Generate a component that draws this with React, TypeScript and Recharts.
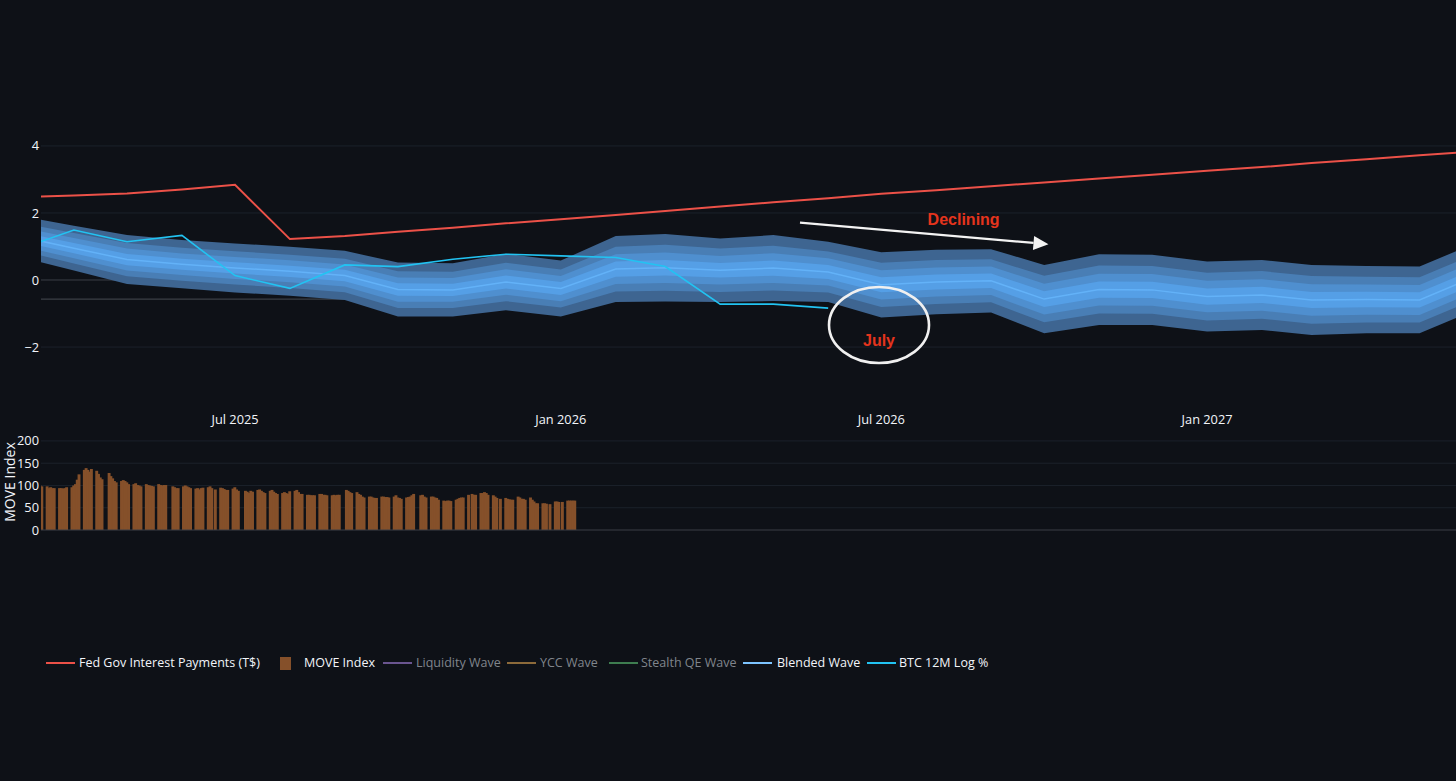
import React from 'react';
import {
  ComposedChart,
  BarChart,
  Bar,
  Line,
  Area,
  XAxis,
  YAxis,
  ReferenceLine,
  ReferenceDot,
} from 'recharts';

// ---------- DATA ----------
const months = [
  '2025-03', '2025-04', '2025-05', '2025-06', '2025-07', '2025-08', '2025-09',
  '2025-10', '2025-11', '2025-12', '2026-01', '2026-02', '2026-03', '2026-04',
  '2026-05', '2026-06', '2026-07', '2026-08', '2026-09', '2026-10', '2026-11',
  '2026-12', '2027-01', '2027-02', '2027-03', '2027-04', '2027-05', '2027-06',
];

const fedInterest = [
  2.47, 2.52, 2.58, 2.7, 2.84, 1.22, 1.31, 1.44, 1.56, 1.69, 1.81, 1.94, 2.06, 2.19,
  2.32, 2.44, 2.57, 2.68, 2.8, 2.91, 3.03, 3.14, 3.26, 3.37, 3.49, 3.6, 3.72, 3.83,
];

const btc12mLog: (number | null)[] = [
  0.92, 1.49, 1.14, 1.33, 0.13, -0.25, 0.45, 0.4, 0.62, 0.77, 0.72, 0.67, 0.4, -0.72,
  -0.72, -0.84, null, null, null, null, null, null, null, null, null, null, null, null,
];

const waveUpper = [
  1.91, 1.62, 1.34, 1.19, 1.09, 0.99, 0.87, 0.52, 0.5, 0.78, 0.58, 1.31, 1.37, 1.24,
  1.34, 1.14, 0.83, 0.9, 0.92, 0.45, 0.77, 0.75, 0.55, 0.6, 0.45, 0.42, 0.4, 1.09,
];

const waveLower = [
  0.69, 0.28, -0.12, -0.25, -0.37, -0.47, -0.6, -1.09, -1.09, -0.9, -1.09, -0.66, -0.64, -0.66,
  -0.63, -0.66, -1.12, -1.02, -0.97, -1.59, -1.34, -1.34, -1.54, -1.49, -1.64, -1.59, -1.59, -0.9,
];

const xTickMonths = ['2025-07', '2026-01', '2026-07', '2027-01'];
const yTicksTop = [-2, 0, 2, 4];
const yTicksMove = [0, 50, 100, 150, 200];

// MOVE Index, business days, one row per week (Mon..Fri), first week starts Mon 2025-03-10
const moveWeekStart = '2025-03-10';
const moveValues: (number | null)[][] = [
  [null, null, null, 100, 98],
  [98, 94, 96, 94, 94],
  [94, 94, 93, 94, 96],
  [96, 100, 103, 113, 125],
  [135, 139, 135, 131, 137],
  [133, 126, 118, 114, null],
  [128, 121, 116, 110, 107],
  [110, 112, 110, 107, 103],
  [103, 105, 101, 100, 98],
  [103, 101, 100, 99, 98],
  [103, 101, 100, 101, 101],
  [null, 98, 96, 94, 94],
  [98, 100, 98, 96, 94],
  [93, 94, 91, 94, 95],
  [96, 98, 94, null, 91],
  [95, 94, 92, 90, 90],
  [93, 96, 91, 88, null],
  [88, 86, 83, 88, 86],
  [90, 91, 88, 85, 83],
  [88, 90, 86, 83, 81],
  [83, 85, 83, 81, 87],
  [88, 90, 85, 81, 81],
  [79, 79, 78, 78, 78],
  [81, 81, 79, 79, 78],
  [78, 79, 78, 79, 79],
  [null, 90, 88, 85, 83],
  [85, 81, 79, 75, 73],
  [75, 75, 73, 72, 72],
  [75, 75, 74, 74, 73],
  [75, 78, 73, 72, 70],
  [73, 74, 75, 78, 81],
  [null, 78, 79, 75, 73],
  [75, 75, 73, 72, 68],
  [66, 65, 66, 66, 65],
  [68, 70, 72, 73, 73],
  [79, null, 81, 79, 79],
  [83, 83, 85, 83, 79],
  [78, 75, 72, null, 70],
  [72, 70, 69, 68, 68],
  [75, 73, 70, 70, 68],
  [73, 68, 64, 60, 60],
  [60, 60, 59, null, 58],
  [64, 64, 63, null, 63],
  [66, 66, 66, 66, 66],
];

// ---------- HELPERS ----------
const DAY = 86400000;
const toT = (s: string) => {
  const [y, m, d] = s.split('-').map(Number);
  return Date.UTC(y, m - 1, d || 1);
};
const MONTH_NAMES = ['Jan', 'Feb', 'Mar', 'Apr', 'May', 'Jun', 'Jul', 'Aug', 'Sep', 'Oct', 'Nov', 'Dec'];
const fmtDate = (t: number) => {
  const d = new Date(t);
  return `${MONTH_NAMES[d.getUTCMonth()]} ${d.getUTCFullYear()}`;
};
const fmtNum = (v: number) => (v < 0 ? `\u2212${Math.abs(v)}` : `${v}`);

const xDomain: [number, number] = [Date.UTC(2025, 2, 13, 10), Date.UTC(2027, 4, 21, 14)];
const xTicks = xTickMonths.map(toT);

const layerFractions = [1, 0.68, 0.45, 0.23];
const layerColors = ['#3e6591', '#497eb5', '#4f8fcf', '#559fe6'];

const topRows = months.map((m, i) => {
  const c = (waveUpper[i] + waveLower[i]) / 2;
  const h = (waveUpper[i] - waveLower[i]) / 2;
  const row: any = { t: toT(m), fed: fedInterest[i], btc: btc12mLog[i], blend: c };
  layerFractions.forEach((f, k) => {
    row[`layer${k}`] = [c - h * f, c + h * f];
  });
  return row;
});

const moveRows: { t: number; v: number }[] = [];
moveValues.forEach((week, w) => {
  week.forEach((v, d) => {
    if (v !== null) moveRows.push({ t: toT(moveWeekStart) + (w * 7 + d) * DAY, v });
  });
});

// ---------- COLORS / STYLE ----------
const BG = '#0e1117';
const GRID = '#1b212b';
const ZERO = '#3b3f46';
const TEXT = '#f2f5fa';
const RED = '#ec5148';
const CYAN = '#22c3f2';
const BLEND = '#66b6fc';
const BROWN = '#85502a';
const ANNOT = '#e5341d';
const FONT = '"Open Sans", "DejaVu Sans", sans-serif';
const ANNOT_FONT = '"Liberation Sans", Arial, sans-serif';

const tickStyle = { fill: TEXT, fontSize: 12.8, fontFamily: FONT };

// annotation anchors (data space)
const arrowFrom = { x: Date.UTC(2026, 4, 16, 2), y: 1.71 };
const arrowTo = { x: Date.UTC(2026, 9, 3, 10), y: 1.066 };
const decliningAt = { x: Date.UTC(2026, 7, 16, 12), y: 1.805 };
const julyCircleAt = { x: Date.UTC(2026, 5, 29, 17), y: -1.343 };
const julyTextAt = { x: Date.UTC(2026, 5, 29, 17), y: -1.79 };

const ArrowShape = (props: any) => {
  const { x1, y1, x2, y2 } = props;
  const ang = Math.atan2(y2 - y1, x2 - x1);
  const len = 15;
  const hw = 7;
  const bx = x2 - len * Math.cos(ang);
  const by = y2 - len * Math.sin(ang);
  const px = -Math.sin(ang);
  const py = Math.cos(ang);
  return (
    <g>
      <line x1={x1} y1={y1} x2={bx} y2={by} stroke="#f3f3f3" strokeWidth={2.2} />
      <polygon
        points={`${x2},${y2} ${bx + px * hw},${by + py * hw} ${bx - px * hw},${by - py * hw}`}
        fill="#f3f3f3"
      />
    </g>
  );
};

const EllipseShape = (props: any) => (
  <ellipse cx={props.cx} cy={props.cy} rx={50} ry={38} fill="none" stroke="#f0f0f0" strokeWidth={2.6} />
);

const textShape = (label: string) => (props: any) => (
  <text
    x={props.cx}
    y={props.cy + 6}
    textAnchor="middle"
    fill={ANNOT}
    fontSize={16}
    fontWeight="bold"
    fontFamily={ANNOT_FONT}
  >
    {label}
  </text>
);

// daily bar drawn a little wider than the library's 90% band so a week reads as one block
const DailyBar = (props: any) => {
  const { x, y, width, height } = props;
  if (!height || height <= 0) return null;
  const cx = x + width / 2;
  const w = 2.9;
  return <rect x={cx - w / 2} y={y} width={w} height={height} fill={BROWN} />;
};

const legendItems = [
  { kind: 'line', color: RED, label: 'Fed Gov Interest Payments (T$)', sx: 46, tx: 79, active: true },
  { kind: 'box', color: BROWN, label: 'MOVE Index', sx: 280, tx: 304, active: true },
  { kind: 'line', color: '#6a5590', label: 'Liquidity Wave', sx: 383, tx: 416, active: false },
  { kind: 'line', color: '#8c6a3a', label: 'YCC Wave', sx: 507, tx: 540, active: false },
  { kind: 'line', color: '#3e7d50', label: 'Stealth QE Wave', sx: 609, tx: 641, active: false },
  { kind: 'line', color: '#7cc4ff', label: 'Blended Wave', sx: 743, tx: 777, active: true },
  { kind: 'line', color: CYAN, label: 'BTC 12M Log %', sx: 867, tx: 899, active: true },
];

export default function App() {
  return (
    <div
      style={{
        position: 'fixed',
        left: 0,
        top: 0,
        width: 1456,
        height: 781,
        background: BG,
        overflow: 'hidden',
        fontFamily: FONT,
      }}
    >
      <div style={{ position: 'absolute', left: 0, top: 0 }}>
        <ComposedChart width={1456} height={430} data={topRows} margin={{ top: 99, right: 0, bottom: 0, left: 0 }}>
          <XAxis
            dataKey="t"
            type="number"
            domain={xDomain}
            allowDataOverflow
            ticks={xTicks}
            tickFormatter={fmtDate}
            axisLine={false}
            tickLine={false}
            tickSize={6}
            tickMargin={5}
            height={26}
            tick={tickStyle}
            interval={0}
          />
          <YAxis
            type="number"
            domain={[-3.7, 5.4]}
            allowDataOverflow
            ticks={yTicksTop}
            tickFormatter={fmtNum}
            axisLine={false}
            tickLine={false}
            tickSize={0}
            tickMargin={2}
            width={41}
            tick={tickStyle}
            interval={0}
          />
          {yTicksTop
            .filter((v) => v !== 0)
            .map((v) => (
              <ReferenceLine key={`g${v}`} y={v} stroke={GRID} strokeWidth={1} zIndex={-60} />
            ))}
          <ReferenceLine y={0} stroke={ZERO} strokeWidth={1} zIndex={-50} />
          <ReferenceLine y={-0.57} stroke={ZERO} strokeWidth={1.2} zIndex={-50} />
          {layerFractions.map((_, k) => (
            <Area
              key={k}
              dataKey={`layer${k}`}
              type="linear"
              stroke="none"
              fill={layerColors[k]}
              fillOpacity={1}
              isAnimationActive={false}
              dot={false}
              activeDot={false}
            />
          ))}
          <Line
            dataKey="blend"
            type="linear"
            stroke={BLEND}
            strokeWidth={1.5}
            strokeOpacity={0.8}
            dot={false}
            activeDot={false}
            isAnimationActive={false}
          />
          <Line
            dataKey="fed"
            type="linear"
            stroke={RED}
            strokeWidth={2}
            dot={false}
            activeDot={false}
            isAnimationActive={false}
          />
          <Line
            dataKey="btc"
            type="linear"
            stroke={CYAN}
            strokeWidth={1.6}
            dot={false}
            activeDot={false}
            connectNulls={false}
            isAnimationActive={false}
          />
          <ReferenceLine segment={[arrowFrom, arrowTo]} shape={ArrowShape} zIndex={2500} />
          <ReferenceDot x={julyCircleAt.x} y={julyCircleAt.y} r={1} shape={EllipseShape} zIndex={2500} />
          <ReferenceDot x={julyTextAt.x} y={julyTextAt.y} r={1} shape={textShape('July')} zIndex={2500} />
          <ReferenceDot x={decliningAt.x} y={decliningAt.y} r={1} shape={textShape('Declining')} zIndex={2500} />
        </ComposedChart>
      </div>

      <div style={{ position: 'absolute', left: 0, top: 430 }}>
        <BarChart width={1456} height={110} data={moveRows} margin={{ top: 6.5, right: 0, bottom: 10, left: 0 }}>
          <XAxis dataKey="t" type="number" domain={xDomain} allowDataOverflow hide />
          <YAxis
            type="number"
            domain={[0, 210]}
            allowDataOverflow
            ticks={yTicksMove}
            axisLine={false}
            tickLine={false}
            tickSize={0}
            tickMargin={2}
            width={41}
            tick={tickStyle}
            interval={0}
          />
          {yTicksMove
            .filter((v) => v !== 0)
            .map((v) => (
              <ReferenceLine key={`m${v}`} y={v} stroke={GRID} strokeWidth={1} zIndex={-60} />
            ))}
          <Bar dataKey="v" fill={BROWN} shape={DailyBar} isAnimationActive={false} />
          <ReferenceLine y={0} stroke={ZERO} strokeWidth={1} />
        </BarChart>
      </div>

      <svg
        width={1456}
        height={781}
        style={{ position: 'absolute', left: 0, top: 0, pointerEvents: 'none' }}
      >
        <text
          x={15}
          y={482}
          transform="rotate(-90 15 482)"
          textAnchor="middle"
          fill={TEXT}
          fontSize={14}
          fontFamily={FONT}
        >
          MOVE Index
        </text>
        {legendItems.map((it) => (
          <g key={it.label}>
            {it.kind === 'line' ? (
              <line
                x1={it.sx}
                x2={it.sx + 29}
                y1={663}
                y2={663}
                stroke={it.color}
                strokeWidth={2}
              />
            ) : (
              <rect x={it.sx} y={657} width={11} height={13} fill={it.color} />
            )}
            <text
              x={it.tx}
              y={667}
              fill={it.active ? TEXT : '#80858c'}
              fontSize={12.5}
              fontFamily={FONT}
            >
              {it.label}
            </text>
          </g>
        ))}
      </svg>
    </div>
  );
}
